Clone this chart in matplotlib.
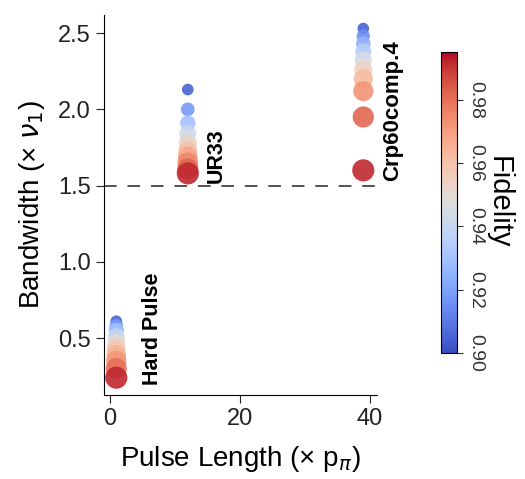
import matplotlib
matplotlib.use('Agg')
import matplotlib.pyplot as plt
import numpy as np
from matplotlib.colors import Normalize

plt.rcParams['font.family'] = ['Liberation Sans', 'DejaVu Sans']

# pulse families: length (x pi-pulse), bandwidth (x nu1), fidelity
hard_len = 1
hard_bw = [0.24, 0.30, 0.35, 0.39, 0.43, 0.47, 0.51, 0.55, 0.58, 0.61]
hard_fid = [0.992, 0.980, 0.972, 0.965, 0.958, 0.950, 0.940, 0.930, 0.918, 0.905]

ur33_len = 12
ur33_bw = [1.58, 1.61, 1.65, 1.69, 1.73, 1.78, 1.84, 1.91, 2.00, 2.13]
ur33_fid = [0.992, 0.982, 0.975, 0.968, 0.960, 0.952, 0.942, 0.930, 0.918, 0.905]

crp_len = 39
crp_bw = [1.60, 1.95, 2.12, 2.20, 2.26, 2.32, 2.38, 2.43, 2.48, 2.53]
crp_fid = [0.992, 0.982, 0.972, 0.962, 0.954, 0.945, 0.935, 0.925, 0.915, 0.905]

labels = ['Hard Pulse', 'UR33', 'Crp60comp.4']
cbar_ticks = [0.90, 0.92, 0.94, 0.96, 0.98]

fig = plt.figure(figsize=(5.25, 4.79), dpi=100)
ax = fig.add_axes([0.198, 0.175, 0.52, 0.794])
norm = Normalize(vmin=0.90, vmax=0.995)
cmap = plt.get_cmap('coolwarm')


def size_of(fid):
    f = np.asarray(fid)
    return 60 + (f - 0.90) / 0.09 * 190


groups = [(hard_len, hard_bw, hard_fid), (ur33_len, ur33_bw, ur33_fid), (crp_len, crp_bw, crp_fid)]
sc = None
for xl, bw, fid in groups:
    # draw low-fidelity (top) first so the red ones sit on top
    order = np.argsort(fid)
    xs = np.full(len(bw), xl)[order]
    ys = np.asarray(bw)[order]
    fs = np.asarray(fid)[order]
    sc = ax.scatter(xs, ys, c=fs, s=size_of(fs), cmap=cmap, norm=norm,
                    alpha=0.9, edgecolors='none', zorder=3)

ax.axhline(1.5, color='#444444', lw=1.3, dashes=(7, 6), zorder=1)

ax.text(4.9, 0.19, labels[0], rotation=90, fontsize=15.5, fontweight='bold',
        ha='left', va='bottom')
ax.text(14.8, 1.52, labels[1], rotation=90, fontsize=15.5, fontweight='bold',
        ha='left', va='bottom')
ax.text(41.9, 1.53, labels[2], rotation=90, fontsize=16, fontweight='bold',
        ha='left', va='bottom', clip_on=False)

ax.set_xlim(-0.9, 41.1)
ax.set_ylim(0.125, 2.62)
ax.set_xticks([0, 20, 40])
ax.set_yticks([0.5, 1.0, 1.5, 2.0, 2.5])
ax.spines['top'].set_visible(False)
ax.spines['right'].set_visible(False)
ax.tick_params(direction='out', length=6, labelsize=17, colors='#222222')
ax.set_xlabel(r'Pulse Length (× p$_\pi$)', fontsize=20, labelpad=10)
ax.set_ylabel(r'Bandwidth (× $\nu_1$)', fontsize=20, labelpad=8)

cax = fig.add_axes([0.84, 0.263, 0.031, 0.628])
cb = fig.colorbar(sc, cax=cax)
cb.solids.set_alpha(1)
cb.set_ticks(cbar_ticks)
cb.set_ticklabels(['%.2f' % t for t in cbar_ticks])
for t in cax.get_yticklabels():
    t.set_rotation(-90)
    t.set_va('center')
cax.tick_params(labelsize=14, length=4, colors='#333333')
cb.set_label('Fidelity', rotation=-90, fontsize=21, labelpad=20)

fig.savefig('out.png', dpi=100)
